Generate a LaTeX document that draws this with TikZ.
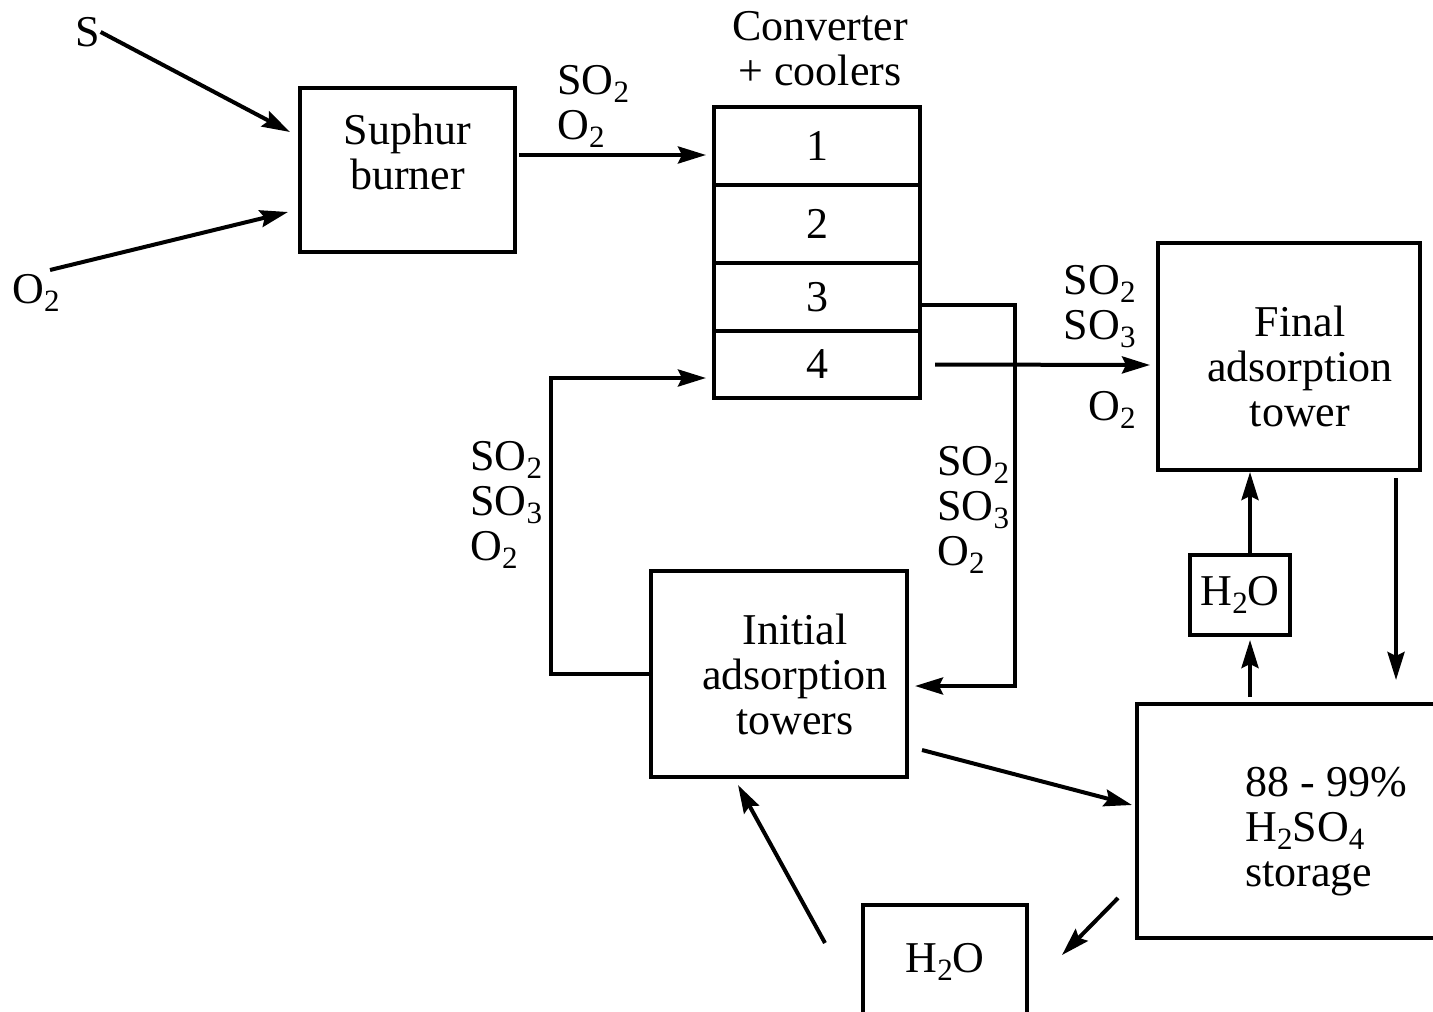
\documentclass[tikz,border=0pt]{standalone}
\usepackage{fontspec}
\setmainfont{Liberation Serif}
\usepackage{tikz}
\usetikzlibrary{arrows.meta,positioning}
\definecolor{ink}{HTML}{000000}
\newcommand{\plant}{\fontsize{22}{22.5}\selectfont}
\newcommand{\chemsub}[1]{\raisebox{-0.4ex}{\fontsize{15.5}{15.5}\selectfont #1}}
\tikzset{
    unitbox/.style={draw=ink,line width=2pt,inner sep=0pt,outer sep=0pt,
      align=center,font=\plant},
    cellnode/.style={draw=ink,line width=2pt,minimum width=103pt,
      inner sep=0pt,outer sep=0pt,font=\plant},
    flowarrow/.style={-{Stealth[length=14pt,width=8.5pt,inset=2pt]},draw=ink,
      line width=2pt},
    streamlabel/.style={inner sep=0pt,text=ink,font=\plant,align=left}
}

\begin{document}
\begin{tikzpicture}[x=0.5pt,y=-0.5pt]
  \useasboundingbox (0,0) rectangle (1433,1011);
  \clip (0,0) rectangle (1433,1011);
  % feeds and burner
  \node[streamlabel] (sulphur) at (88,32) {S};
  \node[streamlabel] (airin) at (36,293) {O\chemsub{2}};
  \node[unitbox,minimum width=107.5pt,minimum height=82pt] (burner) at (407.5,170) {};
  \node[streamlabel,align=center] (burnerlbl) at ([yshift=9pt]burner) {Suphur\\burner};
  % converter stack
  \node[cellnode,minimum height=39pt] (cell1) at (817,146) {1};
  \node[cellnode,minimum height=39pt,below=0pt of cell1] (cell2) {2};
  \node[cellnode,minimum height=34pt,below=0pt of cell2] (cell3) {3};
  \node[cellnode,minimum height=33.5pt,below=0pt of cell3] (cell4) {4};
  \node[streamlabel,align=center,above=10.5pt of cell1,xshift=1.5pt] (convlbl) {Converter\\+ coolers};
  % towers, water, storage
  \node[unitbox,minimum width=131pt,minimum height=113.5pt] (final) at (1289,356.5) {};
  \node[streamlabel,align=center] (finallbl) at ([shift={(5.5pt,-5pt)}]final) {Final\\adsorption\\tower};
  \node[unitbox,minimum width=128pt,minimum height=103pt] (initial) at (779,674) {};
  \node[streamlabel,align=center] (initiallbl) at ([xshift=8pt]initial) {Initial\\adsorption\\towers};
  \node[unitbox,minimum width=50pt,minimum height=40pt] (waterA) at (1240,595) {H\chemsub{2}O};
  \node[unitbox,minimum width=82pt,minimum height=57pt] (waterB) at (945,962) {H\chemsub{2}O};
  \node[unitbox,minimum width=161.5pt,minimum height=117pt] (storage) at (1298.5,821) {};
  \node[streamlabel,anchor=west] (storagelbl) at (1245,832) {88 - 99\%\\H\chemsub{2}SO\chemsub{4}\\storage};
  % stream labels
  \node[streamlabel,anchor=west] (feedlbl) at (557,106) {SO\chemsub{2}\\O\chemsub{2}};
  \node[streamlabel,anchor=west] (recyclbl) at (470,505) {SO\chemsub{2}\\SO\chemsub{3}\\O\chemsub{2}};
  \node[streamlabel,anchor=west] (returnlbl) at (937,510) {SO\chemsub{2}\\SO\chemsub{3}\\O\chemsub{2}};
  \node[streamlabel,align=right,anchor=east] (exitlbl) at (1136,307) {SO\chemsub{2}\\SO\chemsub{3}};
  \node[streamlabel,anchor=east] (exitoxy) at (1136,410) {O\chemsub{2}};
  % flows
  \draw[flowarrow] (sulphur.east) -- ([shift={(-5pt,19pt)}]burner.west);
  \draw[flowarrow] ([shift={(-5pt,2pt)}]airin.north east) -- ([shift={(-6pt,-21pt)}]burner.west);
  \draw[flowarrow] ([shift={(2pt,7.5pt)}]burner.east) -- ([shift={(-4pt,-4.5pt)}]cell1.west);
  \draw[flowarrow] ([yshift=-4pt]cell3.east) -- ++(47.5pt,0pt) |- ([shift={(4pt,-6pt)}]initial.east);
  \draw[flowarrow] ([xshift=7.5pt]cell4.east) -- ([shift={(-4pt,-4.25pt)}]final.west);
  \draw[flowarrow] (initial.west) -- ++(-50pt,0pt) |- ([shift={(-4pt,-6.75pt)}]cell4.west);
  \draw[flowarrow] ([shift={(-12pt,-4pt)}]final.south east) -- ([shift={(48.75pt,12pt)}]storage.north);
  \draw[flowarrow] ([xshift=5pt]waterA.north) -- ([shift={(-19.5pt,-1pt)}]final.south);
  \draw[flowarrow] ([shift={(-24.25pt,3.5pt)}]storage.north) -- ([shift={(5pt,-2.5pt)}]waterA.south);
  \draw[flowarrow] ([shift={(7.5pt,-38pt)}]initial.east) -- ([shift={(-2.5pt,8pt)}]storage.west);
  \draw[flowarrow] ([shift={(-9.5pt,-38.5pt)}]storage.west) -- ([shift={(17.5pt,3.5pt)}]waterB.east);
  \draw[flowarrow] ([shift={(-19pt,9.5pt)}]waterB.west) -- ([shift={(-20.5pt,-4pt)}]initial.south);
\end{tikzpicture}
\end{document}
